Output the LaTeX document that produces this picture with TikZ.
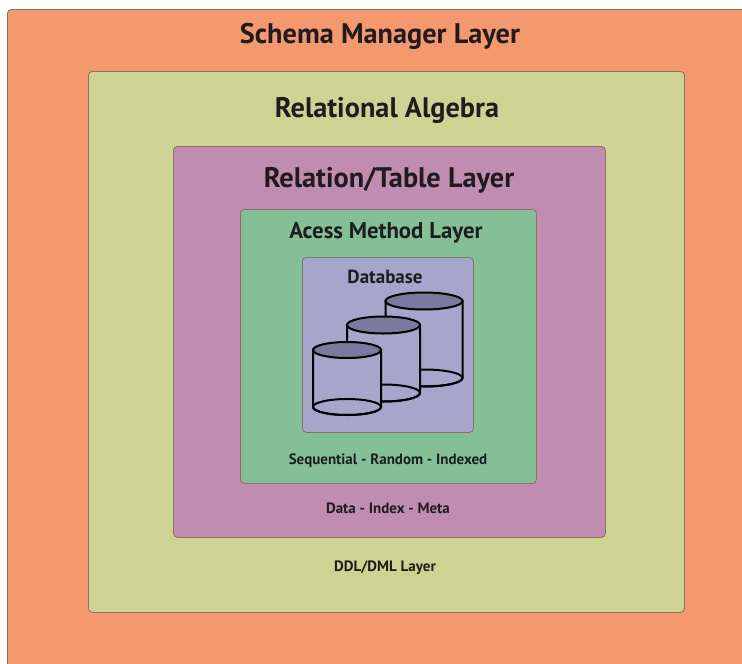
\documentclass[tikz,border=0pt]{standalone}
\usepackage{fontspec}
\setmainfont{PT Sans}
\definecolor{schemafill}{RGB}{244,152,110}
\definecolor{algebrafill}{RGB}{205,212,146}
\definecolor{relationfill}{RGB}{192,141,176}
\definecolor{accessfill}{RGB}{132,192,150}
\definecolor{dbfill}{RGB}{166,165,203}
\definecolor{dbtop}{RGB}{122,122,160}
\definecolor{boxline}{RGB}{135,115,95}
\definecolor{inkcol}{RGB}{30,28,30}
\begin{document}
\begin{tikzpicture}[x=1pt, y=-1pt,
  layer/.style = {draw=boxline, line width=0.8pt, rounded corners=4pt, anchor=north west, inner sep=0pt},
  title/.style = {anchor=base, text=inkcol, font=\bfseries\fontsize{28.3}{31}\selectfont},
  subtitle/.style = {anchor=base, text=inkcol, font=\bfseries\fontsize{15}{17}\selectfont},
  cyl/.style = {draw=black, line width=2pt}]
  \useasboundingbox (0,0) rectangle (742,664);
  \clip (0,0) rectangle (742,664);
  \fill[white] (0,0) rectangle (742,664);
  % layers
  \node[layer, fill=schemafill, minimum width=760pt, minimum height=680pt] (schema) at (7,9) {};
  \node[layer, fill=algebrafill, minimum width=596pt, minimum height=541pt] (algebra) at (88,71) {};
  \node[layer, fill=relationfill, minimum width=432pt, minimum height=391pt] (relation) at (173,146) {};
  \node[layer, fill=accessfill, minimum width=296pt, minimum height=274pt] (access) at (240,209) {};
  \node[layer, fill=dbfill, minimum width=171pt, minimum height=175pt] (database) at (302,257) {};
  % labels
  \node[title] (schematext) at (380,43) {Schema Manager Layer};
  \node[title] (algebratext) at (387,117) {Relational Algebra};
  \node[title] (relationtext) at (389,187) {Relation/Table Layer};
  \node[title, font=\bfseries\fontsize{22.8}{25}\selectfont] (accesstext) at (386,238) {Acess Method Layer};
  \node[title, font=\bfseries\fontsize{19}{21}\selectfont] (dbtext) at (385,283) {Database};
  \node[subtitle] (accessmodes) at (388,464) {Sequential - Random - Indexed};
  \node[subtitle] (relationkinds) at (388,513) {Data - Index - Meta};
  \node[subtitle] (ddltext) at (385,571) {DDL/DML Layer};
  % cylinders, back to front: centre x / top y / bottom y / rx / ry
  \foreach \cx/\ty/\by/\rx/\ry in {424/301/378/38.5/8.5, 383.5/325/393/36.5/8.5, 347/350/407/34/8}{
    \filldraw[cyl, fill=dbfill] (\cx-\rx,\ty) -- (\cx-\rx,\by) arc[start angle=180, end angle=360, x radius=\rx, y radius=-\ry] -- (\cx+\rx,\ty) -- cycle;
    \draw[cyl] (\cx,\by) ellipse[x radius=\rx, y radius=\ry];
    \filldraw[cyl, fill=dbtop] (\cx,\ty) ellipse[x radius=\rx, y radius=\ry];
  }
\end{tikzpicture}
\end{document}
